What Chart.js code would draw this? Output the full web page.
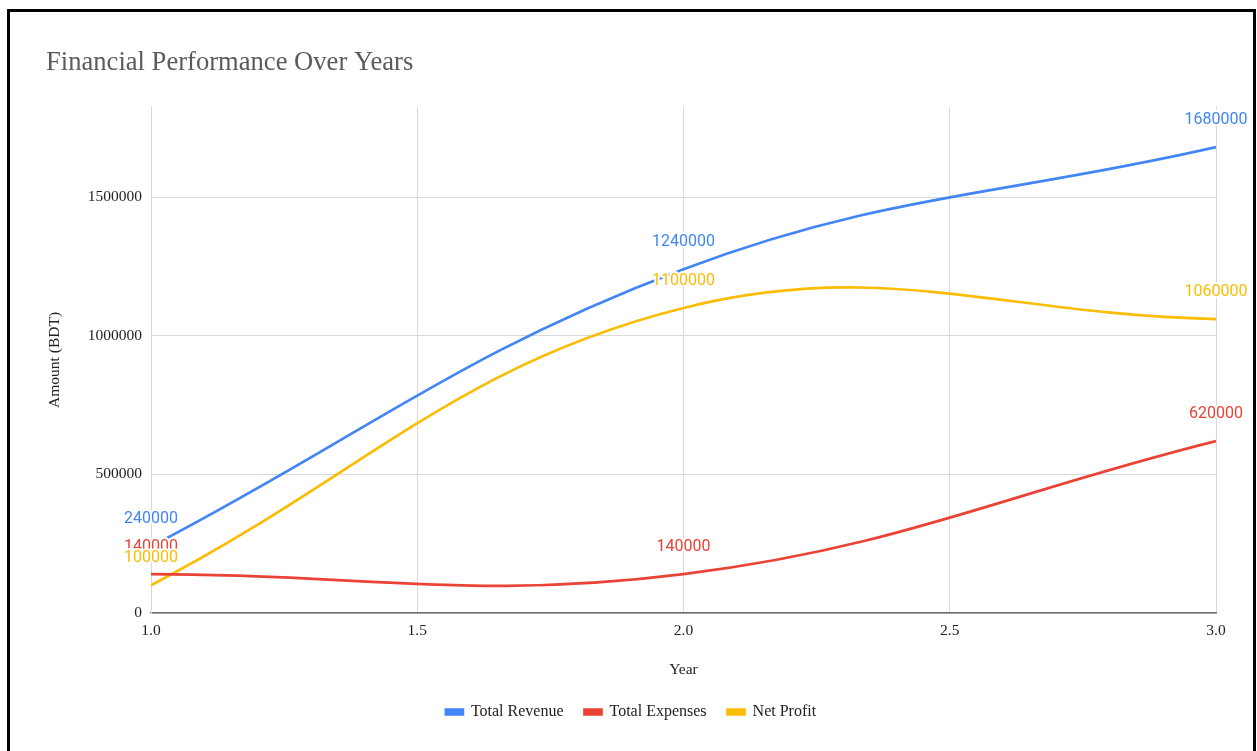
<!DOCTYPE html>
<html>
<head>
<meta charset="utf-8">
<title>Financial Performance Over Years</title>
<script src="https://cdn.jsdelivr.net/npm/chart.js@4.4.1/dist/chart.umd.min.js"></script>
<style>
  html, body { margin: 0; padding: 0; background: #ffffff; overflow: hidden; }
  #wrap { position: relative; width: 1257px; height: 751px; }
  #frame {
    position: absolute; left: 7px; top: 9px; width: 1249px; height: 800px;
    border: 3px solid #000; box-sizing: border-box; pointer-events: none;
  }
</style>
</head>
<body>
<div id="wrap">
  <canvas id="chart" width="1257" height="751"></canvas>
  <div id="frame"></div>
</div>
<script>
// Years (x positions) and the three series, one value per year
const years = [1, 2, 3];
const totalRevenue = [240000, 1240000, 1680000];
const totalExpenses = [140000, 140000, 620000];
const netProfit = [100000, 1100000, 1060000];

// Axis ticks
const yTicks = [0, 500000, 1000000, 1500000];
const xTicks = [1.0, 1.5, 2.0, 2.5, 3.0];

const seriesNames = ['Total Revenue', 'Total Expenses', 'Net Profit'];
const seriesColors = ['#4285F4', '#EA4335', '#FBBC04'];
const seriesValues = [totalRevenue, totalExpenses, netProfit];

const serif = '"Liberation Serif", "Times New Roman", serif';

function toPoints(values) {
  return years.map((x, i) => ({ x: x, y: values[i] }));
}

// Value labels above every point, with a white halo behind the glyphs
const pointLabels = {
  id: 'pointLabels',
  afterDatasetsDraw(chart) {
    const ctx = chart.ctx;
    ctx.save();
    ctx.font = '16px Roboto, "Noto Sans", sans-serif';
    ctx.textAlign = 'center';
    ctx.textBaseline = 'alphabetic';
    ctx.lineJoin = 'round';
    chart.data.datasets.forEach((ds, di) => {
      const meta = chart.getDatasetMeta(di);
      meta.data.forEach((pt, i) => {
        const text = String(ds.data[i].y);
        const x = pt.x, y = pt.y - 23;
        ctx.lineWidth = 4;
        ctx.strokeStyle = '#ffffff';
        ctx.strokeText(text, x, y);
        ctx.fillStyle = ds.borderColor;
        ctx.fillText(text, x, y);
      });
    });
    ctx.restore();
  }
};

const datasets = seriesNames.map((name, i) => ({
  label: name,
  data: toPoints(seriesValues[i]),
  borderColor: seriesColors[i],
  backgroundColor: seriesColors[i],
  borderWidth: 2.7,
  tension: 0.4,
  pointRadius: 0,
  pointHoverRadius: 0,
  fill: false
}));

new Chart(document.getElementById('chart'), {
  type: 'line',
  data: { datasets: datasets },
  plugins: [pointLabels],
  options: {
    responsive: false,
    animation: false,
    events: [],
    layout: { padding: { left: 46, right: 41, top: 0, bottom: 21 } },
    plugins: {
      title: {
        display: true,
        text: 'Financial Performance Over Years',
        align: 'start',
        color: '#5b5b5b',
        font: { family: serif, size: 26.6, weight: 'normal' },
        padding: { top: 47, bottom: 28 }
      },
      legend: {
        position: 'bottom',
        labels: {
          boxWidth: 17,
          boxHeight: 5,
          padding: 21,
          color: '#222222',
          font: { family: serif, size: 16 }
        }
      },
      tooltip: { enabled: false }
    },
    scales: {
      x: {
        type: 'linear',
        min: 1,
        max: 3,
        afterBuildTicks(scale) { scale.ticks = xTicks.map(v => ({ value: v })); },
        afterFit(scale) { scale.height = 70; },
        ticks: {
          padding: 9,
          color: '#222222',
          font: { family: serif, size: 15.5 },
          maxRotation: 0,
          callback: v => Number(v).toFixed(1)
        },
        grid: { color: '#d9d9d9', lineWidth: 1, drawTicks: false },
        border: { color: '#6f6f6f', width: 1.6 },
        title: {
          display: true,
          text: 'Year',
          color: '#222222',
          font: { family: serif, size: 15.5 },
          padding: { top: 0, bottom: 4 }
        }
      },
      y: {
        min: 0,
        max: 1825000,
        afterBuildTicks(scale) { scale.ticks = yTicks.map(v => ({ value: v })); },
        afterFit(scale) { scale.width = 105; },
        ticks: {
          padding: 9,
          color: '#222222',
          font: { family: serif, size: 15.5 },
          callback: v => String(v)
        },
        grid: { color: '#d9d9d9', lineWidth: 1, drawTicks: false },
        border: { color: '#d9d9d9', width: 1 },
        title: {
          display: true,
          text: 'Amount (BDT)',
          color: '#222222',
          font: { family: serif, size: 15.5 },
          padding: { top: 0, bottom: 0 }
        }
      }
    }
  }
});
</script>
</body>
</html>
